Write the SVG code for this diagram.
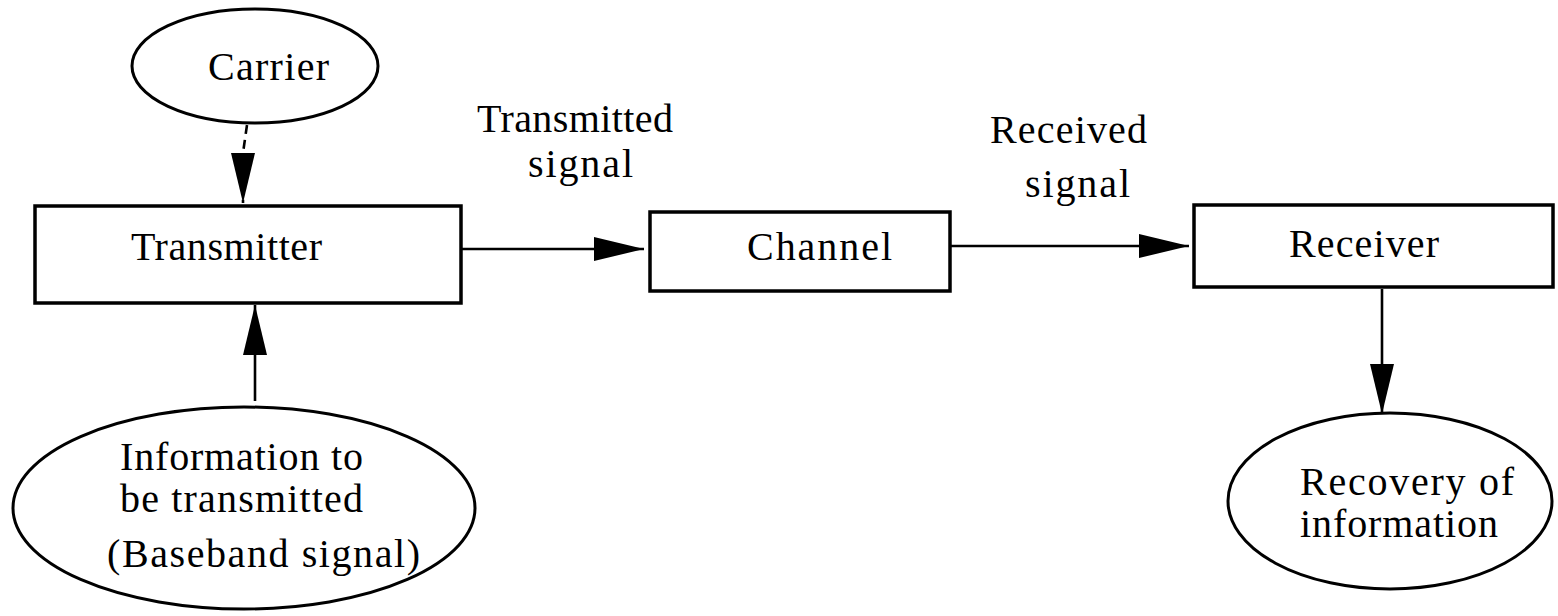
<svg xmlns="http://www.w3.org/2000/svg" width="1558" height="616" viewBox="0 0 1558 616">
<style>
.box{fill:#fff;stroke:#000;stroke-width:3.5}
.ell{fill:#fff;stroke:#000;stroke-width:3}
.edge{fill:none;stroke:#000;stroke-width:2.6}
.dash{stroke-dasharray:9,6}
text{font-family:"Liberation Serif","Times New Roman",serif;font-size:40px;fill:#000}
</style>
<defs>
<marker id="ah" markerUnits="userSpaceOnUse" markerWidth="52" markerHeight="26" refX="50" refY="12" orient="auto" viewBox="0 0 52 26">
<path d="M0,0 L50,12 L0,24 z" fill="#000" stroke="none"/>
</marker>
</defs>
<rect width="1558" height="616" fill="#fff"/>
<g id="connectors">
<path class="edge dash" d="M247,125 L243,153 L243,203" marker-end="url(#ah)"/>
<path class="edge" d="M255,401 L255,305" marker-end="url(#ah)"/>
<path class="edge" d="M461,249 L644,249" marker-end="url(#ah)"/>
<path class="edge" d="M951,246 L1189,246" marker-end="url(#ah)"/>
<path class="edge" d="M1382,289 L1382,414" marker-end="url(#ah)"/>
<text x="477" y="132" textLength="196" lengthAdjust="spacing">Transmitted</text>
<text x="528" y="177" textLength="105" lengthAdjust="spacing">signal</text>
<text x="990" y="143" textLength="157" lengthAdjust="spacing">Received</text>
<text x="1025" y="197" textLength="105" lengthAdjust="spacing">signal</text>
</g>
<g id="carrier">
<ellipse class="ell" cx="255" cy="66" rx="123" ry="57"/>
<text x="208" y="80" textLength="121" lengthAdjust="spacing">Carrier</text>
</g>
<g id="transmitter">
<rect class="box" x="35" y="206" width="426" height="97"/>
<text x="131" y="260" textLength="191" lengthAdjust="spacing">Transmitter</text>
</g>
<g id="information">
<ellipse class="ell" cx="244" cy="508" rx="231" ry="101"/>
<text x="120" y="470" textLength="243" lengthAdjust="spacing">Information to</text>
<text x="120" y="512" textLength="243" lengthAdjust="spacing">be transmitted</text>
<text x="107" y="567" textLength="313" lengthAdjust="spacing">(Baseband signal)</text>
</g>
<g id="channel">
<rect class="box" x="650" y="212" width="300" height="79"/>
<text x="747" y="260" textLength="145" lengthAdjust="spacing">Channel</text>
</g>
<g id="receiver">
<rect class="box" x="1194" y="205" width="359" height="82"/>
<text x="1289" y="257" textLength="150" lengthAdjust="spacing">Receiver</text>
</g>
<g id="recovery">
<ellipse class="ell" cx="1390" cy="501" rx="162" ry="88"/>
<text x="1300" y="495" textLength="214" lengthAdjust="spacing">Recovery of</text>
<text x="1300" y="537" textLength="198" lengthAdjust="spacing">information</text>
</g>
</svg>
